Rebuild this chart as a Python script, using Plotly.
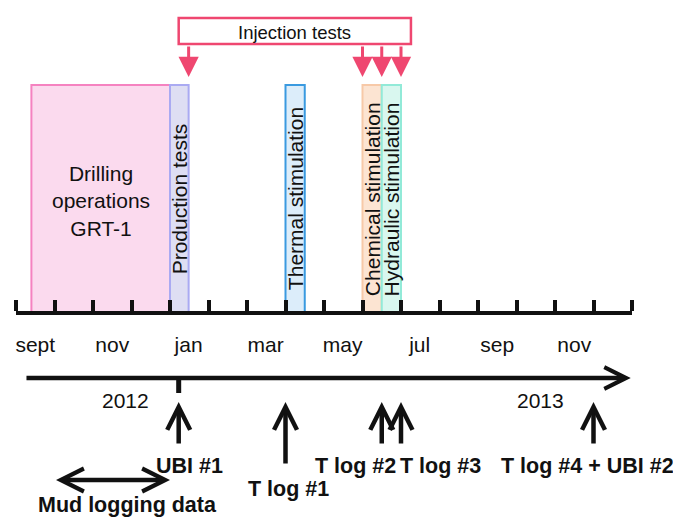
import calendar
import plotly.graph_objects as go

# ---------------- data ----------------
period_labels = ["Drilling<br>operations<br>GRT-1", "Production tests", "Thermal stimulation",
                 "Chemical stimulation", "Hydraulic stimulation"]
period_starts = ["2012-09-13", "2013-01-01", "2013-04-01", "2013-06-01", "2013-06-16"]
period_ends = ["2013-01-01", "2013-01-16", "2013-04-16", "2013-06-16", "2013-07-01"]

injection_label = "Injection tests"
injection_dates = ["2013-01-16", "2013-06-01", "2013-06-16", "2013-07-01"]
injection_span = ["2013-01-08", "2013-07-09"]

log_labels = ["UBI #1", "T log #1", "T log #2", "T log #3", "T log #4 + UBI #2"]
log_dates = ["2013-01-08", "2013-04-01", "2013-06-16", "2013-07-01", "2013-12-01"]

mud_label = "Mud logging data"
mud_span = ["2012-10-01", "2013-01-01"]

month_tick_labels = ["sept", "nov", "jan", "mar", "may", "jul", "sep", "nov"]
month_tick_months = ["2012-09-16", "2012-11-16", "2013-01-16", "2013-03-16",
                     "2013-05-16", "2013-07-16", "2013-09-16", "2013-11-16"]

year_labels = ["2012", "2013"]
year_label_dates = ["2012-11-26", "2013-10-20"]
year_arrow_span = ["2012-09-08", "2013-12-31"]
year_mark_date = "2013-01-08"

timeline_start = "2012-09-01"
timeline_end = "2014-01-01"

# ---------------- styles ----------------
FONT = "Liberation Sans, Arial, sans-serif"
period_fills = ["#fbdaee", "#dedef3", "#dcedfa", "#fce4d2", "#d9f7ef"]
period_lines = ["#f582c0", "#aaaaf2", "#3a9ae0", "#f7c9a8", "#92ead8"]
period_fonts = [21, 21, 21, 21, 21]
INJ = "#ef4770"

# layout (pixel rows)
Y_BOX_TOP, Y_AXIS = 85, 313
Y_VTEXT = 199
Y_INJ_TOP, Y_INJ_BOT, Y_INJ_TIP = 18, 44, 77
Y_YEARLINE, Y_YEARMARK, Y_YEARTEXT = 378, 393, 400
Y_LOG_TIP = 402
log_tail = [445, 465, 445, 445, 445]
log_text_y = [466, 489, 466, 466, 466]
log_text_dx = [11, 3, -26, 39, -6]
Y_MUD, Y_MUD_TEXT = 480, 505
BOLD_SIZE = 21.5


def m_index(s):
    y, m, d = (int(p) for p in s.split("-"))
    t0y, t0m = int(timeline_start[:4]), int(timeline_start[5:7])
    days = calendar.monthrange(y, m)[1]
    return (y - t0y) * 12 + (m - t0m) + (d - 1) / days


fig = go.Figure()
shapes = []
ann = []

# period boxes
for lab, s, e, fc, lc, fs in zip(period_labels, period_starts, period_ends,
                                  period_fills, period_lines, period_fonts):
    x0, x1 = m_index(s), m_index(e)
    shapes.append(dict(type="rect", xref="x", yref="y", x0=x0, x1=x1, y0=Y_BOX_TOP, y1=Y_AXIS,
                       fillcolor=fc, line=dict(color=lc, width=2), layer="below"))
    vertical = "<br>" not in lab
    ann.append(dict(x=(x0 + x1) / 2, y=Y_VTEXT + (0 if vertical else 2), xref="x", yref="y",
                    text=lab, showarrow=False, textangle=-90 if vertical else 0,
                    font=dict(family=FONT, size=fs, color="#111")))

# injection tests box and arrows
ix0, ix1 = m_index(injection_span[0]), m_index(injection_span[1])
shapes.append(dict(type="rect", xref="x", yref="y", x0=ix0, x1=ix1, y0=Y_INJ_TOP, y1=Y_INJ_BOT,
                   fillcolor="white", line=dict(color=INJ, width=2.5)))
ann.append(dict(x=(ix0 + ix1) / 2, y=(Y_INJ_TOP + Y_INJ_BOT) / 2 + 1, xref="x", yref="y",
                text=injection_label, showarrow=False,
                font=dict(family=FONT, size=18.5, color="#111")))
for d in injection_dates:
    xi = m_index(d)
    ann.append(dict(x=xi, y=Y_INJ_TIP, ax=xi, ay=Y_INJ_BOT + 1, xref="x", yref="y",
                    axref="x", ayref="y", text="", showarrow=True, arrowhead=2,
                    arrowsize=1.35, arrowwidth=3, arrowcolor=INJ))

# year arrow line
ya0, ya1 = m_index(year_arrow_span[0]), m_index(year_arrow_span[1])
ann.append(dict(x=ya1, y=Y_YEARLINE, ax=ya0, ay=Y_YEARLINE, xref="x", yref="y", axref="x",
                ayref="y", text="", showarrow=True, arrowhead=5, arrowsize=0.95,
                arrowwidth=4.5, arrowcolor="#111"))
ym = m_index(year_mark_date)
shapes.append(dict(type="line", xref="x", yref="y", x0=ym, x1=ym, y0=Y_YEARLINE, y1=Y_YEARMARK,
                   line=dict(color="#111", width=5)))
for lab, d in zip(year_labels, year_label_dates):
    ann.append(dict(x=m_index(d), y=Y_YEARTEXT, xref="x", yref="y", text=lab, showarrow=False,
                    font=dict(family=FONT, size=21, color="#111")))

# log events
for lab, d, tail, ty, dx in zip(log_labels, log_dates, log_tail, log_text_y, log_text_dx):
    xe = m_index(d)
    ann.append(dict(x=xe, y=Y_LOG_TIP, ax=xe, ay=tail, xref="x", yref="y", axref="x",
                    ayref="y", text="", showarrow=True, arrowhead=5, arrowsize=1.0,
                    arrowwidth=4.5, arrowcolor="#111"))
    ann.append(dict(x=xe, y=ty, xref="x", yref="y", xshift=dx, text="<b>" + lab + "</b>",
                    showarrow=False, font=dict(family=FONT, size=BOLD_SIZE, color="#111")))

# mud logging
mx0, mx1 = m_index(mud_span[0]), m_index(mud_span[1])
ann.append(dict(x=mx1, y=Y_MUD, ax=mx0, ay=Y_MUD, xref="x", yref="y", axref="x", ayref="y",
                text="", showarrow=True, arrowhead=5, startarrowhead=5, arrowside="end+start",
                arrowsize=1.0, startarrowsize=1.0, arrowwidth=4.5, arrowcolor="#111"))
ann.append(dict(x=(mx0 + mx1) / 2, y=Y_MUD_TEXT, xref="x", yref="y", xshift=15,
                text="<b>" + mud_label + "</b>", showarrow=False,
                font=dict(family=FONT, size=BOLD_SIZE, color="#111")))

n_months = m_index(timeline_end)
W, H = 673, 520
fig.update_layout(
    width=W, height=H, margin=dict(l=0, r=0, t=0, b=0),
    paper_bgcolor="white", plot_bgcolor="rgba(0,0,0,0)", showlegend=False,
    shapes=shapes, annotations=ann,
    xaxis=dict(range=[0, n_months], domain=[16 / W, 632 / W], anchor="free",
               position=(H - Y_AXIS) / H, showline=True, linewidth=4, linecolor="#111",
               tickvals=[m_index(d) for d in month_tick_months], ticktext=month_tick_labels,
               ticks="", ticklabelstandoff=12,
               tickfont=dict(family=FONT, size=21, color="#111"),
               showgrid=False, zeroline=False, fixedrange=True,
               minor=dict(ticks="inside", dtick=1, tick0=0, ticklen=11, tickwidth=4,
                          tickcolor="#111", showgrid=False)),
    yaxis=dict(range=[H, 0], domain=[0, 1], visible=False, fixedrange=True),
)

fig.write_html("out.html", config={"displayModeBar": False},
               post_script="document.body.style.margin='0';document.body.style.overflow='hidden';")
